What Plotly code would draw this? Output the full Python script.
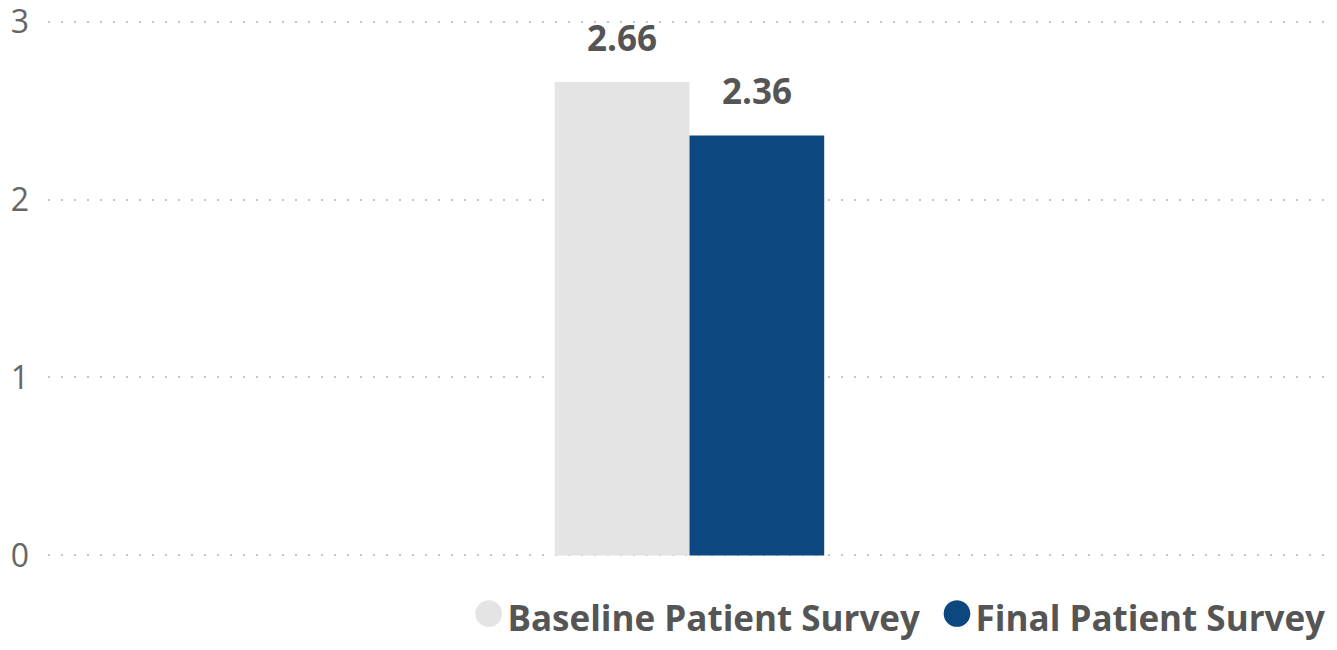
import plotly.graph_objects as go

# Survey scores
categories = ["Patient Survey"]
series_names = ["Baseline Patient Survey", "Final Patient Survey"]
series_values = [[2.66], [2.36]]
series_colors = ["#e4e4e4", "#0c4780"]
y_ticks = [0, 1, 2, 3]

BARGAP = 0.79

fig = go.Figure()
for name, vals, col in zip(series_names, series_values, series_colors):
    fig.add_trace(go.Bar(
        x=categories, y=vals, name=name,
        marker=dict(color=col, line=dict(width=0)),
        showlegend=False,
    ))

# Value labels sitting above each grouped bar
n_series = len(series_names)
slot = (1 - BARGAP) / n_series
for s, (vals, name) in enumerate(zip(series_values, series_names)):
    offset = -(1 - BARGAP) / 2 + slot * (s + 0.5)
    for i, v in enumerate(vals):
        fig.add_annotation(
            x=i + offset, y=v, xref="x", yref="y",
            text=f"<b>{v:.2f}</b>", showarrow=False,
            xanchor="center", yanchor="bottom", yshift=19,
            font=dict(family="Open Sans", size=35, color="#555555"),
        )

# Legend row with round swatches
legend_text = "  ".join(
    f"<span style='color:{c};font-size:62px'>●</span><b>{n}</b>"
    for n, c in zip(series_names, series_colors)
)
fig.add_annotation(
    text=legend_text, xref="paper", yref="paper", x=0.997, y=-0.089,
    xanchor="right", yanchor="middle", showarrow=False,
    font=dict(family="Open Sans", size=35, color="#555555"),
)

fig.update_layout(
    width=1337, height=650,
    margin=dict(l=48, r=6, t=18, b=91),
    paper_bgcolor="white", plot_bgcolor="white",
    barmode="group", bargap=BARGAP, bargroupgap=0,
    xaxis=dict(showticklabels=False, showgrid=False, zeroline=False,
               showline=False, automargin=False),
    yaxis=dict(
        range=[-0.02, 3.02], tickvals=y_ticks, showgrid=True,
        gridcolor="#c4c4c4", gridwidth=1.5, griddash="2px,11px",
        zeroline=False, showline=False, ticks="", automargin=False,
        tickfont=dict(family="Open Sans", size=32, color="#666666"),
        ticklabelstandoff=18, ticklabeloverflow="allow",
    ),
)

fig.write_html("out.html")
